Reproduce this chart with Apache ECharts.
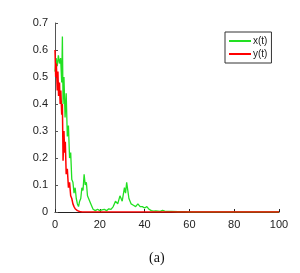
<!DOCTYPE html>
<html><head><meta charset="utf-8">
<script src="https://cdn.jsdelivr.net/npm/echarts@6/dist/echarts.min.js"></script>
<style>html,body{margin:0;padding:0;background:#fff}#c{width:300px;height:273px}</style>
</head><body><div id="c"></div>
<script>
var xT = [0,0.5,1,1.5,2,2.5,3,3.3,3.6,4,4.5,5,5.5,6,6.5,7,7.5,8,8.5,9,9.5,10,10.5,11,11.5,12,12.5,13,13.5,14,14.5,15,16,17,18,19,20,21,22,23,24,25,26,27,28,29,30,31,31.5,32,32.5,33,34,35,36,37,38,39,40,41,42,43,44,45,46,47,48,49,50,52,55,58,60,70,80,90,100];
var xVals = [0.52,0.57,0.54,0.58,0.55,0.57,0.48,0.65,0.40,0.50,0.35,0.44,0.28,0.32,0.20,0.22,0.12,0.11,0.07,0.09,0.05,0.03,0.02,0.04,0.05,0.09,0.08,0.14,0.10,0.11,0.06,0.05,0.03,0.01,0.005,0.01,0.005,0.008,0.01,0.005,0.012,0.01,0.02,0.04,0.03,0.06,0.04,0.09,0.07,0.11,0.08,0.05,0.03,0.025,0.02,0.03,0.02,0.02,0.015,0.02,0.01,0.005,0.003,0.004,0.003,0.002,0.006,0.003,0.002,0.002,0.001,0.001,0,0,0,0,0];
var yT = [0,0.3,0.6,1,1.3,1.6,2,2.3,2.6,3,3.3,3.6,4,4.3,4.6,5,5.5,6,6.5,7,7.5,8,8.5,9,10,11,12,20,40,60,80,100];
var yVals = [0.60,0.50,0.55,0.45,0.52,0.43,0.48,0.40,0.45,0.36,0.40,0.19,0.30,0.22,0.26,0.14,0.16,0.09,0.11,0.06,0.05,0.03,0.02,0.012,0.005,0.002,0,0,0,0,0,0];
var seriesNames = ['x(t)','y(t)'];

function pairs(t,v){return t.map(function(a,i){return [a,v[i]];});}
var chart = echarts.init(document.getElementById('c'));
var font = 'Liberation Sans, Arial, sans-serif';
chart.setOption({
  animation:false,
  grid:{left:55,right:21,top:23,bottom:61},
  xAxis:{type:'value',min:0,max:100,interval:20,
    axisLine:{lineStyle:{color:'#222',width:1}},
    axisTick:{inside:true,length:3,lineStyle:{color:'#222'}},
    splitLine:{show:false},
    axisLabel:{color:'#222',fontSize:11,fontFamily:font,margin:7}},
  yAxis:{type:'value',min:0,max:0.7,interval:0.1,
    axisLine:{show:true,lineStyle:{color:'#555',width:1}},
    axisTick:{show:true,inside:true,length:3,lineStyle:{color:'#555'}},
    splitLine:{show:false},
    axisLabel:{color:'#222',fontSize:11,fontFamily:font,margin:7,formatter:function(v){return +v.toFixed(1)+'';}}},
  legend:{orient:'vertical',left:225,top:32,padding:[4,4,4,4],itemGap:3,
    itemWidth:22,itemHeight:2,icon:'rect',
    borderColor:'#333',borderWidth:1,backgroundColor:'#fff',
    textStyle:{fontSize:10,fontFamily:font,color:'#222',padding:[0,0,0,-3]},
    data:seriesNames},
  series:[
    {name:seriesNames[0],type:'line',data:pairs(xT,xVals),showSymbol:false,symbol:'none',
      lineStyle:{color:'#22e022',width:1.3},itemStyle:{color:'#22e022'}},
    {name:seriesNames[1],type:'line',data:pairs(yT,yVals),showSymbol:false,symbol:'none',
      lineStyle:{color:'#ff0000',width:1.5},itemStyle:{color:'#ff0000'}}
  ],
  graphic:[{type:'text',left:149,top:251,style:{text:'(a)',font:'14px "Liberation Serif", "DejaVu Serif", serif',fill:'#111'}}]
});
</script></body></html>
